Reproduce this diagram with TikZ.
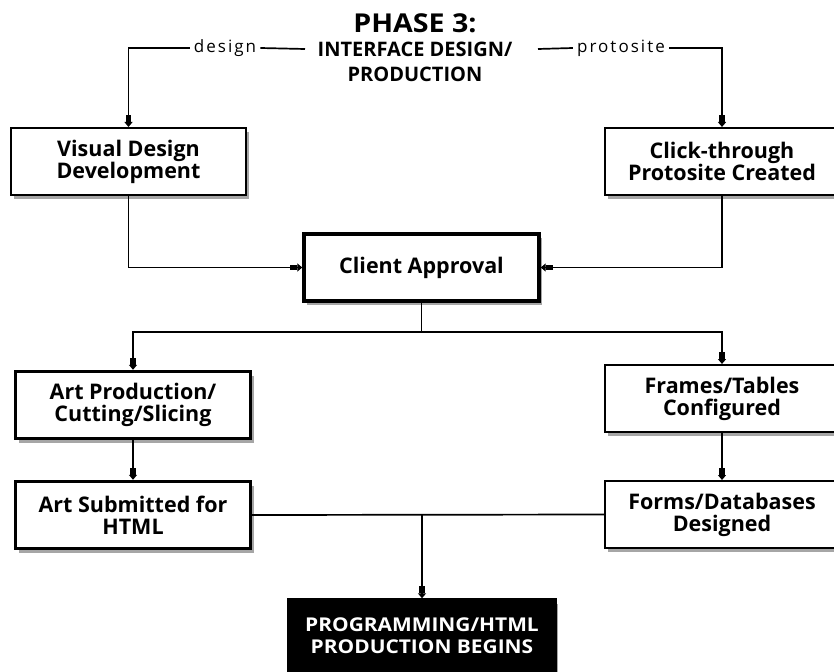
\documentclass[tikz,border=0pt]{standalone}
\usepackage{fontspec}
\setmainfont{Open Sans}
\newfontfamily\widefont{Open Sans}[FakeStretch=1.1]
\newfontfamily\spacedfont{Open Sans}[LetterSpace=12]
\usetikzlibrary{positioning,arrows.meta,shadows}

\begin{document}
\begin{tikzpicture}[x=1pt,y=-1pt]
    \tikzstyle{every node} = [font=\bfseries\fontsize{21.5}{22}\selectfont]
    \tikzstyle{block} = [draw, rectangle, fill=white, line width=2pt, minimum width=235pt, minimum height=67pt, align=center, drop shadow={shadow xshift=3pt,shadow yshift=-4pt,fill=black,opacity=0.35}]
    \tikzstyle{heavy} = [block, line width=3.4pt]
    \tikzstyle{branch} = [font=\spacedfont\fontsize{17}{18}\selectfont, inner sep=4pt]
    \tikzstyle{caps} = [font=\widefont\bfseries\fontsize{19}{22}\selectfont, align=center]
    \tikzstyle{link} = [line width=1.7pt, -{Rectangle[length=7pt,width=5.5pt]Triangle[length=5pt,width=8pt]}]
    \useasboundingbox (0,0) rectangle (834,671);
    % place nodes
    \node[font=\widefont\bfseries\fontsize{26}{28}\selectfont] (phase) at (415,23) {PHASE 3:};
    \node[font=\bfseries\fontsize{20}{25}\selectfont, align=center] (iface) at (415,62) {INTERFACE DESIGN/\\PRODUCTION};
    \node[branch] (design) at (225,48) {design};
    \node[branch] (proto) at (621,48) {protosite};
    \coordinate (lstub) at (305,49);
    \coordinate (rstub) at (538,49);

    \node[block] (visual) at (128.5,161.5) {Visual Design\\Development};
    \node[block, minimum width=234pt] (click) at (722,161.5) {Click-through\\Protosite Created};
    \node[heavy] (client) at (421.5,267.5) {Client Approval};
    \node[heavy] (artprod) at (133,405) {Art Production/\\Cutting/Slicing};
    \node[block, minimum width=234pt] (frames) at (722,398.5) {Frames/Tables\\Configured};
    \node[heavy] (artsub) at (133,515) {Art Submitted for\\HTML};
    \node[block, minimum width=234pt] (forms) at (722,514.5) {Forms/Databases\\Designed};
    \node[heavy, caps, fill=black, text=white, minimum width=266pt, minimum height=72pt] (prog) at (422,636) {PROGRAMMING/HTML\\PRODUCTION BEGINS};

    % Connections
    \draw[link] (design.west) -| (visual.north);
    \draw[line width=1.7pt] (design.east) -- (lstub);
    \draw[line width=1.7pt] (rstub) -- (proto.west);
    \draw[link] (proto.east) -| (click.north);
    \draw[link] (visual.south) |- (client.west);
    \draw[link] (click.south) |- (client.east);
    \coordinate (split) at (421.5,332);
    \draw[line width=1.7pt] (client.south) -- (split);
    \draw[link] (split) -| (artprod.north);
    \draw[link] (split) -| (frames.north);
    \draw[link] (artprod.south) -- (artsub.north);
    \draw[link] (frames.south) -- (forms.north);
    \draw[line width=1.7pt] (artsub.east) -- (forms.west);
    \coordinate (join) at (422,515);
    \draw[link] (join) -- (prog.north);
\end{tikzpicture}
\end{document}
